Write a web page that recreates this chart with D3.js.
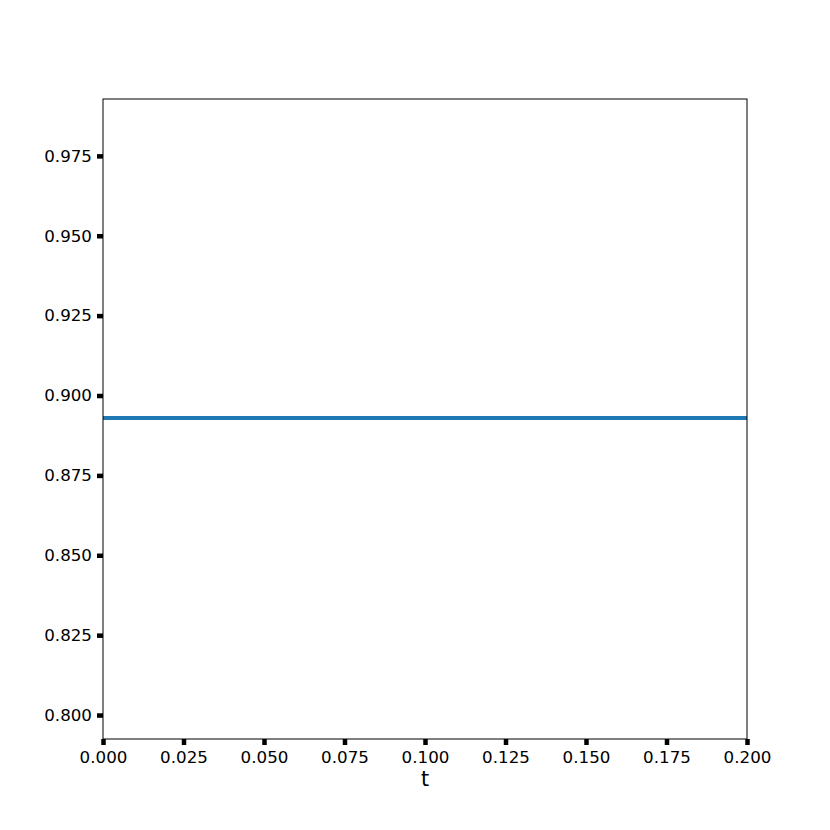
<!DOCTYPE html>
<html>
<head>
<meta charset="utf-8">
<script src="https://cdn.jsdelivr.net/npm/d3@7"></script>
<style>
  body { margin: 0; background: #fff; }
  svg text { font-family: "DejaVu Sans", sans-serif; }
</style>
</head>
<body>
<div id="chart"></div>
<script>
const tValues = [0.0, 0.2];
const yValues = [0.893, 0.893];
const xTicks = [0.000, 0.025, 0.050, 0.075, 0.100, 0.125, 0.150, 0.175, 0.200];
const yTicks = [0.800, 0.825, 0.850, 0.875, 0.900, 0.925, 0.950, 0.975];
const xLabel = 't';

const margin = { top: 99, right: 83, bottom: 91, left: 103 };
const width = 830 - margin.left - margin.right;
const height = 830 - margin.top - margin.bottom;

const svg = d3.select('#chart').append('svg')
  .attr('width', 830)
  .attr('height', 830)
  .append('g')
  .attr('transform', `translate(${margin.left},${margin.top})`);

const x = d3.scaleLinear().domain([0, 0.2]).range([0, width]);
const y = d3.scaleLinear().domain([0.7925, 0.9928]).range([height, 0]);

const line = d3.line()
  .x((d, i) => x(tValues[i]))
  .y(d => y(d));

svg.append('path')
  .datum(yValues)
  .attr('d', line)
  .attr('fill', 'none')
  .attr('stroke', '#1f77b4')
  .attr('stroke-width', 4);

const xAxis = svg.append('g')
  .attr('transform', `translate(0,${height})`)
  .call(d3.axisBottom(x).tickValues(xTicks).tickFormat(d3.format('.3f')).tickSize(6).tickPadding(6));

const yAxis = svg.append('g')
  .call(d3.axisLeft(y).tickValues(yTicks).tickFormat(d3.format('.3f')).tickSize(6).tickPadding(5));

[xAxis, yAxis].forEach(a => {
  a.select('.domain').remove();
  a.selectAll('.tick line').attr('stroke', '#000').attr('stroke-width', 4.5);
  a.selectAll('.tick text').attr('font-size', 16.7).attr('fill', '#000')
    .attr('font-family', '"DejaVu Sans", sans-serif');
});

svg.append('rect')
  .attr('width', width)
  .attr('height', height)
  .attr('fill', 'none')
  .attr('stroke', '#000')
  .attr('stroke-width', 1);

svg.append('text')
  .attr('x', width / 2)
  .attr('y', height + 47)
  .attr('text-anchor', 'middle')
  .attr('font-size', 20.8)
  .text(xLabel);
</script>
</body>
</html>
